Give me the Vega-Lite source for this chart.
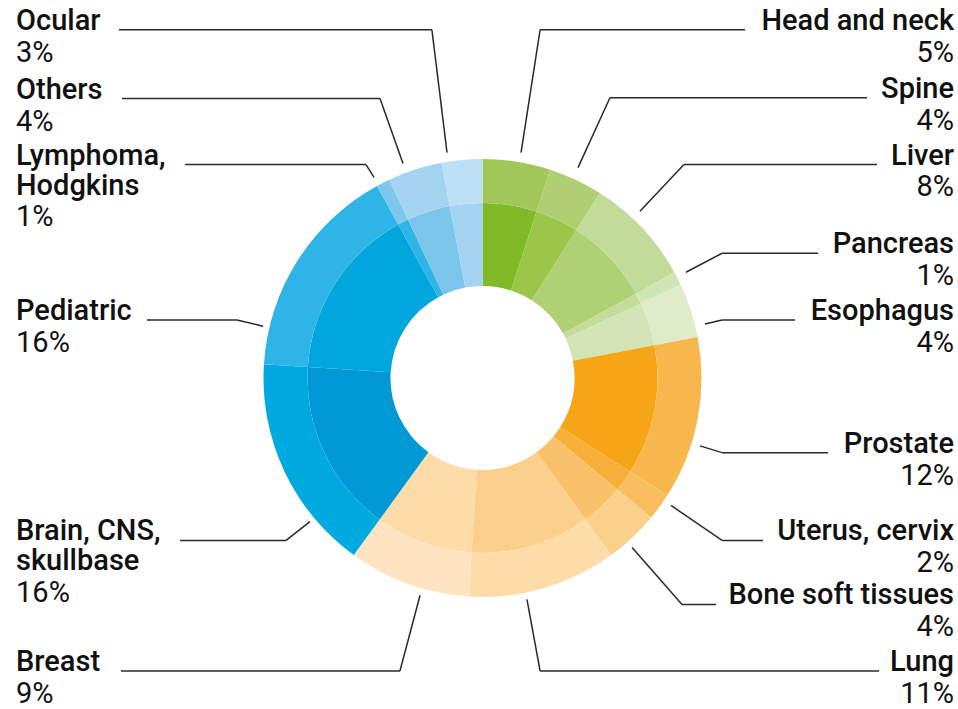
{
  "$schema": "https://vega.github.io/schema/vega-lite/v6.json",
  "width": 958,
  "height": 709,
  "autosize": {"type": "fit", "contains": "padding"},
  "padding": 0,
  "background": "white",
  "config": {"view": {"stroke": null}},
  "data": {
    "values": [
      {"name": "Head and neck", "pct": 5, "side": "right", "sx": 0.176, "sy": 1.032, "ex": 0.263, "ly": 1.594, "lx": 1.199},
      {"name": "Spine", "pct": 4, "side": "right", "sx": 0.436, "sy": 0.963, "ex": 0.582, "ly": 1.283, "lx": 1.756},
      {"name": "Liver", "pct": 8, "side": "right", "sx": 0.719, "sy": 0.763, "ex": 0.92, "ly": 0.977, "lx": 1.801},
      {"name": "Pancreas", "pct": 1, "side": "right", "sx": 0.929, "sy": 0.484, "ex": 1.094, "ly": 0.571, "lx": 1.532},
      {"name": "Esophagus", "pct": 4, "side": "right", "sx": 1.016, "sy": 0.247, "ex": 1.094, "ly": 0.265, "lx": 1.427},
      {"name": "Prostate", "pct": 12, "side": "right", "sx": 0.993, "sy": -0.311, "ex": 1.094, "ly": -0.342, "lx": 1.578},
      {"name": "Uterus, cervix", "pct": 2, "side": "right", "sx": 0.861, "sy": -0.584, "ex": 1.094, "ly": -0.744, "lx": 1.281},
      {"name": "Bone soft tissues", "pct": 4, "side": "right", "sx": 0.683, "sy": -0.776, "ex": 0.911, "ly": -1.037, "lx": 1.066},
      {"name": "Lung", "pct": 11, "side": "right", "sx": 0.203, "sy": -1.014, "ex": 0.263, "ly": -1.342, "lx": 1.811},
      {"name": "Breast", "pct": 9, "side": "left", "sx": -0.285, "sy": -0.995, "ex": -0.377, "ly": -1.342, "lx": -1.651},
      {"name": "Brain, CNS,\nskullbase", "pct": 16, "side": "left", "sx": -0.788, "sy": -0.658, "ex": -0.897, "ly": -0.744, "lx": -1.381},
      {"name": "Pediatric", "pct": 16, "side": "left", "sx": -1.002, "sy": 0.237, "ex": -1.121, "ly": 0.265, "lx": -1.532},
      {"name": "Lymphoma,\nHodgkins", "pct": 1, "side": "left", "sx": -0.495, "sy": 0.918, "ex": -0.532, "ly": 0.977, "lx": -1.358},
      {"name": "Others", "pct": 4, "side": "left", "sx": -0.363, "sy": 0.982, "ex": -0.468, "ly": 1.279, "lx": -1.646},
      {"name": "Ocular", "pct": 3, "side": "left", "sx": -0.162, "sy": 1.032, "ex": -0.231, "ly": 1.594, "lx": -1.66}
    ]
  },
  "transform": [
    {"window": [{"op": "row_number", "as": "row"}]},
    {"calculate": "datum.pct + '%'", "as": "pctLabel"},
    {"calculate": "length(split(datum.name, '\\n'))", "as": "nl"},
    {"calculate": "datum.ly - ((datum.nl - 1) * 30 + 32) / 219", "as": "py"}
  ],
  "layer": [
    {
      "mark": {"type": "arc", "innerRadius": 92, "outerRadius": 175},
      "encoding": {
        "x": {"datum": 0, "type": "quantitative", "scale": {"domain": [-2.2032, 2.1712], "nice": false, "zero": false}, "axis": null},
        "y": {"datum": 0, "type": "quantitative", "scale": {"domain": [-1.5068, 1.7306], "nice": false, "zero": false}, "axis": null},
        "theta": {"field": "pct", "type": "quantitative", "stack": true},
        "order": {"field": "row", "type": "quantitative"},
        "color": {
          "field": "name", "type": "nominal", "legend": null,
          "scale": {
            "domain": ["Head and neck", "Spine", "Liver", "Pancreas", "Esophagus", "Prostate", "Uterus, cervix", "Bone soft tissues", "Lung", "Breast", "Brain, CNS,\nskullbase", "Pediatric", "Lymphoma,\nHodgkins", "Others", "Ocular"],
            "range": ["#80BA27", "#9BC64A", "#B0D074", "#C3DC9A", "#D3E5B7", "#F5A515", "#F6B03A", "#F9C26A", "#FAD08C", "#FDDCA8", "#0099D5", "#00A6DC", "#2EB4E6", "#7CC6EC", "#A5D4F1"]
          }
        }
      }
    },
    {
      "mark": {"type": "arc", "innerRadius": 175, "outerRadius": 219},
      "encoding": {
        "x": {"datum": 0, "type": "quantitative", "scale": {"domain": [-2.2032, 2.1712], "nice": false, "zero": false}, "axis": null},
        "y": {"datum": 0, "type": "quantitative", "scale": {"domain": [-1.5068, 1.7306], "nice": false, "zero": false}, "axis": null},
        "theta": {"field": "pct", "type": "quantitative", "stack": true},
        "order": {"field": "row", "type": "quantitative"},
        "color": {
          "field": "name", "type": "nominal", "legend": null,
          "scale": {
            "domain": ["Head and neck", "Spine", "Liver", "Pancreas", "Esophagus", "Prostate", "Uterus, cervix", "Bone soft tissues", "Lung", "Breast", "Brain, CNS,\nskullbase", "Pediatric", "Lymphoma,\nHodgkins", "Others", "Ocular"],
            "range": ["#A1C75A", "#B0CF72", "#C1DC98", "#D0E5B4", "#DFECC9", "#F7B74D", "#F8BE5F", "#FBD08A", "#FDDCA8", "#FEE4C1", "#00AADF", "#2EB4E6", "#7EC7EC", "#A5D4F1", "#BEE0F5"]
          }
        }
      }
    },
    {
      "mark": {"type": "rule", "stroke": "#2a2a2a", "strokeWidth": 1.5},
      "encoding": {
        "x": {"field": "sx", "type": "quantitative", "scale": {"domain": [-2.2032, 2.1712], "nice": false, "zero": false}, "axis": null},
        "y": {"field": "sy", "type": "quantitative", "scale": {"domain": [-1.5068, 1.7306], "nice": false, "zero": false}, "axis": null},
        "x2": {"field": "ex"},
        "y2": {"field": "ly"}
      }
    },
    {
      "mark": {"type": "rule", "stroke": "#2a2a2a", "strokeWidth": 1.5},
      "encoding": {
        "x": {"field": "ex", "type": "quantitative", "scale": {"domain": [-2.2032, 2.1712], "nice": false, "zero": false}, "axis": null},
        "y": {"field": "ly", "type": "quantitative", "scale": {"domain": [-1.5068, 1.7306], "nice": false, "zero": false}, "axis": null},
        "x2": {"field": "lx"}
      }
    },
    {
      "transform": [{"filter": "datum.side == 'left'"}],
      "mark": {"type": "text", "align": "left", "baseline": "alphabetic", "font": "Roboto", "fontSize": 29, "fontWeight": 500, "lineHeight": 30, "lineBreak": "\n", "color": "#111111"},
      "encoding": {
        "x": {"datum": -2.13, "type": "quantitative", "scale": {"domain": [-2.2032, 2.1712], "nice": false, "zero": false}, "axis": null},
        "y": {"field": "ly", "type": "quantitative", "scale": {"domain": [-1.5068, 1.7306], "nice": false, "zero": false}, "axis": null},
        "text": {"field": "name"}
      }
    },
    {
      "transform": [{"filter": "datum.side == 'right'"}],
      "mark": {"type": "text", "align": "right", "baseline": "alphabetic", "font": "Roboto", "fontSize": 29, "fontWeight": 500, "lineHeight": 30, "lineBreak": "\n", "color": "#111111"},
      "encoding": {
        "x": {"datum": 2.153, "type": "quantitative", "scale": {"domain": [-2.2032, 2.1712], "nice": false, "zero": false}, "axis": null},
        "y": {"field": "ly", "type": "quantitative", "scale": {"domain": [-1.5068, 1.7306], "nice": false, "zero": false}, "axis": null},
        "text": {"field": "name"}
      }
    },
    {
      "transform": [{"filter": "datum.side == 'left'"}],
      "mark": {"type": "text", "align": "left", "baseline": "alphabetic", "font": "Roboto", "fontSize": 29, "fontWeight": 400, "color": "#111111"},
      "encoding": {
        "x": {"datum": -2.13, "type": "quantitative", "scale": {"domain": [-2.2032, 2.1712], "nice": false, "zero": false}, "axis": null},
        "y": {"field": "py", "type": "quantitative", "scale": {"domain": [-1.5068, 1.7306], "nice": false, "zero": false}, "axis": null},
        "text": {"field": "pctLabel"}
      }
    },
    {
      "transform": [{"filter": "datum.side == 'right'"}],
      "mark": {"type": "text", "align": "right", "baseline": "alphabetic", "font": "Roboto", "fontSize": 29, "fontWeight": 400, "color": "#111111"},
      "encoding": {
        "x": {"datum": 2.153, "type": "quantitative", "scale": {"domain": [-2.2032, 2.1712], "nice": false, "zero": false}, "axis": null},
        "y": {"field": "py", "type": "quantitative", "scale": {"domain": [-1.5068, 1.7306], "nice": false, "zero": false}, "axis": null},
        "text": {"field": "pctLabel"}
      }
    }
  ],
  "resolve": {"scale": {"color": "independent"}}
}
